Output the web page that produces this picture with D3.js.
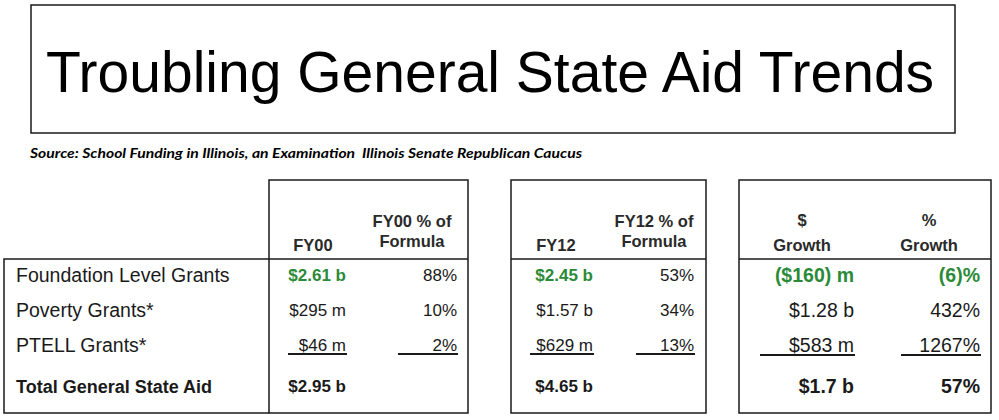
<!DOCTYPE html>
<html>
<head>
<meta charset="utf-8">
<script src="https://cdn.jsdelivr.net/npm/d3@7"></script>
<style>
  body { margin: 0; background: #fff; }
  svg { display: block; font-family: "Liberation Sans", Arial, sans-serif; }
</style>
</head>
<body>
<div id="chart"></div>
<script>
const title = "Troubling General State Aid Trends";
const source = "Source: School Funding in Illinois, an Examination\u00a0 Illinois Senate Republican Caucus";

const rowLabels = ["Foundation Level Grants", "Poverty Grants*", "PTELL Grants*", "Total General State Aid"];

const columnHeaders = [
  ["FY00"], ["FY00 % of", "Formula"],
  ["FY12"], ["FY12 % of", "Formula"],
  ["$", "Growth"], ["%", "Growth"],
];

const fy00 = ["$2.61 b", "$295 m", "$46 m", "$2.95 b"];
const fy00Pct = ["88%", "10%", "2%", ""];
const fy12 = ["$2.45 b", "$1.57 b", "$629 m", "$4.65 b"];
const fy12Pct = ["53%", "34%", "13%", ""];
const growthDollar = ["($160) m", "$1.28 b", "$583 m", "$1.7 b"];
const growthPct = ["(6)%", "432%", "1267%", "57%"];

const width = 999;
const height = 420;
const green = "#2b8a38";
const ink = "#1a1a1a";

const svg = d3.select("#chart").append("svg")
  .attr("width", width)
  .attr("height", height)
  .attr("viewBox", [0, 0, width, height]);

// title box
svg.append("rect")
  .attr("x", 31).attr("y", 5)
  .attr("width", 924).attr("height", 128)
  .attr("fill", "none")
  .attr("stroke", ink)
  .attr("stroke-width", 1.5);

svg.append("text")
  .attr("x", 490).attr("y", 92)
  .attr("text-anchor", "middle")
  .attr("font-size", 57)
  .attr("fill", "#000")
  .text(title);

svg.append("text")
  .attr("x", 30).attr("y", 158)
  .attr("font-family", "Lato, 'Open Sans', sans-serif")
  .attr("font-style", "italic")
  .attr("font-weight", "bold")
  .attr("font-size", 13.5)
  .attr("textLength", 552)
  .attr("lengthAdjust", "spacingAndGlyphs")
  .attr("fill", "#000")
  .text(source);

// table geometry
const tableTop = 180;
const divider = 259;
const tableBottom = 413;

const panels = [
  { x0: 269, x1: 468, size: 17, cols: [0, 1] },
  { x0: 511, x1: 706, size: 17, cols: [2, 3] },
  { x0: 739, x1: 991, size: 19.5, cols: [4, 5] },
];

// right edge of each value column, header centre, underline start,
// and whether the first row is highlighted in green
const columns = [
  { values: fy00, right: 346, center: 313, ulStart: 288, green: true },
  { values: fy00Pct, right: 457, center: 412, ulStart: 398, green: false },
  { values: fy12, right: 593, center: 556, ulStart: 530, green: true },
  { values: fy12Pct, right: 694, center: 654, ulStart: 636, green: false },
  { values: growthDollar, right: 854, center: 802, ulStart: 760, green: true },
  { values: growthPct, right: 980, center: 929, ulStart: 901, green: true },
];

const y = d3.scalePoint()
  .domain(d3.range(rowLabels.length))
  .range([282, 387]);
const rowY = (i) => y(i) + (i === rowLabels.length - 1 ? 6 : 0);

const lines = svg.append("g")
  .attr("stroke", ink)
  .attr("stroke-width", 1.5)
  .attr("fill", "none");

// label box
lines.append("path")
  .attr("d", `M${panels[0].x0},${divider}H4V${tableBottom}H${panels[0].x0}`);

lines.selectAll("rect")
  .data(panels)
  .join("rect")
  .attr("x", (d) => d.x0)
  .attr("y", tableTop)
  .attr("width", (d) => d.x1 - d.x0)
  .attr("height", tableBottom - tableTop);

lines.selectAll("line")
  .data(panels)
  .join("line")
  .attr("x1", (d) => d.x0)
  .attr("x2", (d) => d.x1)
  .attr("y1", divider)
  .attr("y2", divider);

// row labels
svg.append("g")
  .selectAll("text")
  .data(rowLabels)
  .join("text")
  .attr("x", 16)
  .attr("y", (d, i) => rowY(i))
  .attr("font-size", (d, i) => (i === rowLabels.length - 1 ? 18 : 19.5))
  .attr("font-weight", (d, i) => (i === rowLabels.length - 1 ? "bold" : null))
  .attr("fill", ink)
  .text((d) => d);

// column headers
const panelOf = (ci) => panels.find((p) => p.cols.includes(ci));

svg.append("g")
  .selectAll("text")
  .data(columnHeaders)
  .join("text")
  .attr("text-anchor", "middle")
  .attr("font-size", 16.5)
  .attr("font-weight", "bold")
  .attr("fill", "#2a2a2a")
  .each(function (d, ci) {
    const text = d3.select(this);
    const lastY = ci >= 4 ? 251 : d.length === 1 ? 251 : 247;
    d.forEach((line, li) => {
      text.append("tspan")
        .attr("x", columns[ci].center)
        .attr("y", lastY - (d.length - 1 - li) * (ci >= 4 ? 25 : 20))
        .text(line);
    });
  });

// values
const last = rowLabels.length - 1;
const cells = columns.flatMap((c, ci) =>
  c.values.map((v, ri) => ({ v, ci, ri, col: c, hi: ri === 0 && c.green }))
);

svg.append("g")
  .selectAll("text")
  .data(cells.filter((d) => d.v !== ""))
  .join("text")
  .attr("x", (d) => d.col.right)
  .attr("y", (d) => rowY(d.ri) - (d.ci < 4 ? 1 : 0))
  .attr("text-anchor", "end")
  .attr("font-size", (d) => panelOf(d.ci).size)
  .attr("font-weight", (d) => (d.hi || d.ri === last ? "bold" : null))
  .attr("fill", (d) => (d.hi ? green : ink))
  .text((d) => d.v);

// underlines under the last grant row
svg.append("g")
  .attr("stroke", ink)
  .attr("stroke-width", 2)
  .selectAll("line")
  .data(columns)
  .join("line")
  .attr("x1", (d) => d.ulStart)
  .attr("x2", (d) => d.right + 1)
  .attr("y1", (d, ci) => rowY(2) + (ci < 4 ? 2 : 3))
  .attr("y2", (d, ci) => rowY(2) + (ci < 4 ? 2 : 3));
</script>
</body>
</html>
